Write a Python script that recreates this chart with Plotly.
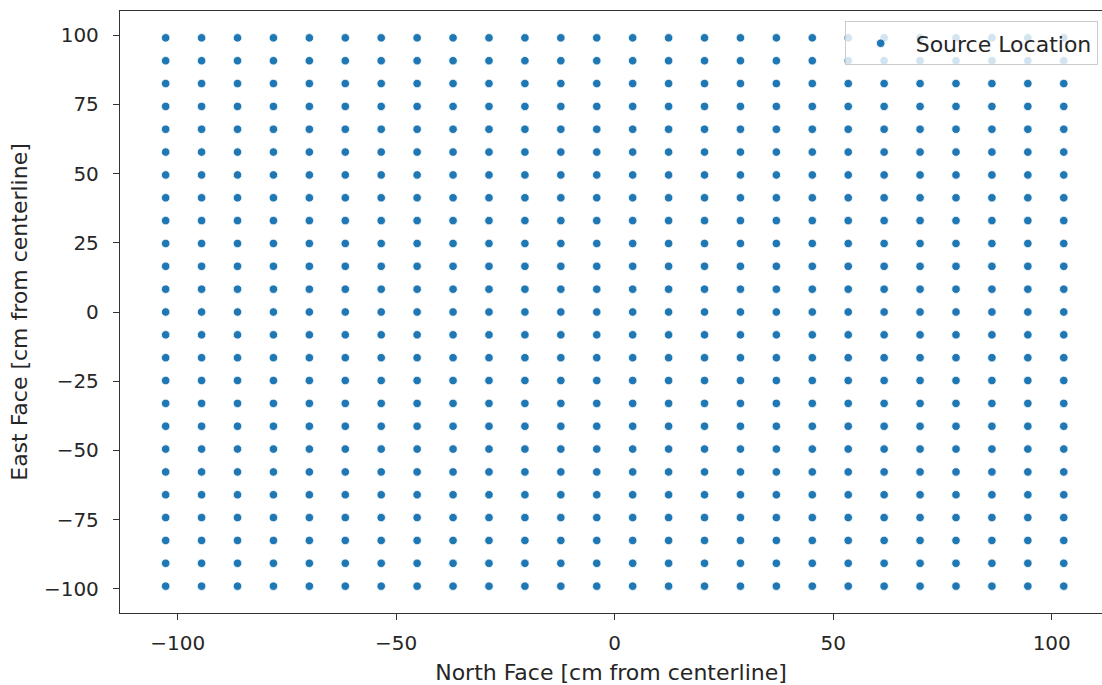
import numpy as np
import plotly.graph_objects as go

# Column positions along the North face (cm from centerline)
x_positions = [-102.75, -94.53, -86.31, -78.09, -69.87, -61.65, -53.43, -45.21,
               -36.99, -28.77, -20.55, -12.33, -4.11, 4.11, 12.33, 20.55,
               28.77, 36.99, 45.21, 53.43, 61.65, 69.87, 78.09, 86.31,
               94.53, 102.75]
# Row positions along the East face (cm from centerline)
y_positions = [-99.0, -90.75, -82.5, -74.25, -66.0, -57.75, -49.5, -41.25,
               -33.0, -24.75, -16.5, -8.25, 0.0, 8.25, 16.5, 24.75,
               33.0, 41.25, 49.5, 57.75, 66.0, 74.25, 82.5, 90.75, 99.0]
x_ticks = [-100, -50, 0, 50, 100]
x_tick_labels = ["\u2212100", "\u221250", "0", "50", "100"]
y_ticks = [-100, -75, -50, -25, 0, 25, 50, 75, 100]
y_tick_labels = ["\u2212100", "\u221275", "\u221250", "\u221225", "0", "25", "50", "75", "100"]
series_name = "Source Location"

gx, gy = np.meshgrid(x_positions, y_positions)

FONT = "DejaVu Sans"
TXT = "#262626"
AX = "#333333"

fig = go.Figure()
fig.add_trace(go.Scatter(
    x=gx.ravel(), y=gy.ravel(), mode="markers", name=series_name,
    marker=dict(color="#1f77b4", size=8.5, line=dict(color="white", width=0.8)),
    showlegend=True,
))

fig.update_layout(
    width=1102, height=685,
    margin=dict(l=120, r=0, t=11, b=72),
    paper_bgcolor="white", plot_bgcolor="white",
    font=dict(family=FONT, size=20, color=TXT),
    showlegend=True,
    legend=dict(
        x=0.9956, y=0.9826, xanchor="right", yanchor="top",
        bgcolor="rgba(255,255,255,0.8)", bordercolor="#cccccc", borderwidth=1,
        font=dict(family=FONT, size=22, color=TXT),
        itemwidth=60,
    ),
    xaxis=dict(
        range=[-113.2, 111.5], showgrid=False, zeroline=False,
        showline=True, linecolor=AX, linewidth=1.3, mirror=True,
        ticks="outside", ticklen=6, tickwidth=1.3, tickcolor=AX,
        tickvals=x_ticks, ticktext=x_tick_labels,
        ticklabelstandoff=6,
        title=dict(text="North Face [cm from centerline]", standoff=11,
                   font=dict(family=FONT, size=22, color=TXT)),
    ),
    yaxis=dict(
        range=[-108.7, 108.7], showgrid=False, zeroline=False,
        showline=True, linecolor=AX, linewidth=1.3, mirror=False,
        ticks="outside", ticklen=6, tickwidth=1.3, tickcolor=AX,
        tickvals=y_ticks, ticktext=y_tick_labels,
        ticklabelstandoff=10,
        title=dict(text="East Face [cm from centerline]", standoff=10,
                   font=dict(family=FONT, size=22, color=TXT)),
    ),
)

fig.write_html("out.html")
